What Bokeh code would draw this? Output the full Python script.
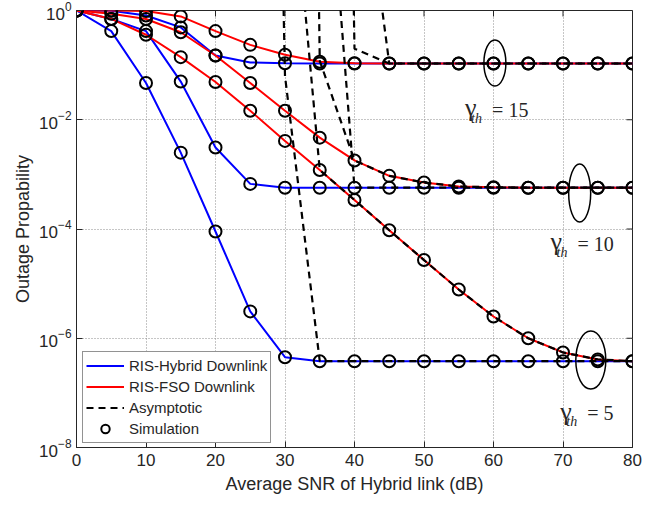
import math
from bokeh.plotting import figure
from bokeh.models import (Range1d, FixedTicker, Legend, LegendItem, Label)
from bokeh.embed import file_html
from bokeh.resources import INLINE

nan = float("nan")

# ---------------- data ----------------
snr = [0, 5, 10, 15, 20, 25, 30, 35, 40, 45, 50, 55, 60, 65, 70, 75, 80]

# RIS-Hybrid downlink (blue)
hyb_g5 = [1.0, 0.42, 0.047, 0.0025, 9.0e-5, 3.1e-6, 4.5e-7, 3.8e-7, 3.8e-7, 3.8e-7,
          3.8e-7, 3.8e-7, 3.8e-7, 3.8e-7, 3.8e-7, 3.8e-7, 3.8e-7]
hyb_g10 = [1.0, 0.70, 0.42, 0.050, 0.0031, 6.7e-4, 5.7e-4, 5.7e-4, 5.7e-4, 5.7e-4,
           5.7e-4, 5.7e-4, 5.7e-4, 5.7e-4, 5.7e-4, 5.7e-4, 5.7e-4]
hyb_g15 = [1.0, 0.99, 0.81, 0.49, 0.15, 0.112, 0.108, 0.107, 0.107, 0.107,
           0.107, 0.107, 0.107, 0.107, 0.107, 0.107, 0.107]

# RIS-FSO downlink (red)
fso_g5 = [1.0, 0.70, 0.36, 0.14, 0.049, 0.0146, 0.0041, 0.0012, 3.4e-4, 9.5e-5,
          2.7e-5, 7.8e-6, 2.5e-6, 1.0e-6, 5.5e-7, 4.1e-7, 3.8e-7]
fso_g10 = [1.0, 0.87, 0.70, 0.40, 0.15, 0.047, 0.0146, 0.0047, 0.0018, 9.4e-4,
           7.1e-4, 6.0e-4, 5.8e-4, 5.7e-4, 5.7e-4, 5.7e-4, 5.7e-4]
fso_g15 = [1.0, 1.0, 0.98, 0.78, 0.42, 0.235, 0.155, 0.115, 0.108, 0.107,
           0.107, 0.107, 0.107, 0.107, 0.107, 0.107, 0.107]

# Asymptotic curves (very large values at low SNR are clipped by the axis)
asy_hyb_g5 = [nan, nan, nan, nan, nan, 6.3e28, 6.3e-2, 3.8e-7, 3.8e-7, 3.8e-7,
              3.8e-7, 3.8e-7, 3.8e-7, 3.8e-7, 3.8e-7, 3.8e-7, 3.8e-7]
asy_fso_g5 = [nan, nan, nan, nan, nan, nan, 1.1e4, 1.2e-3, 3.4e-4, 9.5e-5,
              2.7e-5, 7.8e-6, 2.5e-6, 1.0e-6, 5.5e-7, 4.1e-7, 3.8e-7]
asy_fso_g10 = [nan, nan, nan, nan, nan, nan, 1e45, 0.12, 0.0018, 9.4e-4,
               7.1e-4, 6.0e-4, 5.8e-4, 5.7e-4, 5.7e-4, 5.7e-4, 5.7e-4]
asy_hyb_g10 = [nan, nan, nan, nan, nan, nan, nan, 7.0e4, 5.7e-4, 5.7e-4,
               5.7e-4, 5.7e-4, 5.7e-4, 5.7e-4, 5.7e-4, 5.7e-4, 5.7e-4]
asy_fso_g15 = [nan, nan, nan, nan, nan, nan, nan, 2e34, 0.2, 0.107,
               0.107, 0.107, 0.107, 0.107, 0.107, 0.107, 0.107]
asy_hyb_g15 = [nan, nan, nan, nan, nan, nan, nan, nan, 7.6e3, 0.107,
               0.107, 0.107, 0.107, 0.107, 0.107, 0.107, 0.107]

x_ticks = [0, 10, 20, 30, 40, 50, 60, 70, 80]
y_ticks = [1e-8, 1e-6, 1e-4, 1e-2, 1]

# threshold annotations: label text, ellipse centre, label anchor (snr, outage)
gamma_labels = ["15", "10", "5"]
ellipse_x = [60.2, 72.4, 74.0]
ellipse_y = [10 ** -0.96, 10 ** -3.34, 10 ** -6.40]
label_x = [59.8, 72.1, 73.5]
label_y = [10 ** -1.82, 10 ** -4.27, 10 ** -7.37]

# ---------------- figure ----------------
TXT = "#262626"
p = figure(width=660, height=505, output_backend="svg", toolbar_location=None,
           y_axis_type="log", x_range=Range1d(0, 80), y_range=Range1d(1e-8, 1),
           min_border_left=76, min_border_right=28, min_border_top=10,
           min_border_bottom=58)
p.background_fill_color = "white"
p.outline_line_color = TXT
p.outline_line_width = 1

for ax in (p.xaxis[0], p.yaxis[0]):
    ax.major_tick_in = 6
    ax.major_tick_out = 0
    ax.minor_tick_line_color = None
    ax.axis_line_color = TXT
    ax.major_tick_line_color = TXT
    ax.major_label_text_font = "Liberation Sans"
    ax.major_label_text_font_size = "17px"
    ax.major_label_text_color = TXT
    ax.axis_label_text_font = "Liberation Sans"
    ax.axis_label_text_font_size = "18px"
    ax.axis_label_text_font_style = "normal"
    ax.axis_label_text_color = TXT

p.xaxis[0].ticker = FixedTicker(ticks=x_ticks)
p.yaxis[0].ticker = FixedTicker(ticks=y_ticks)
p.xaxis[0].axis_label = "Average SNR of Hybrid link (dB)"
p.yaxis[0].axis_label = "Outage Propability"
p.xaxis[0].major_label_standoff = 6
p.yaxis[0].major_label_standoff = 5
p.xaxis[0].axis_label_standoff = 5
p.yaxis[0].axis_label_standoff = 3

p.xgrid.ticker = FixedTicker(ticks=x_ticks)
p.ygrid.ticker = FixedTicker(ticks=y_ticks)
for g in (p.xgrid[0], p.ygrid[0]):
    g.grid_line_color = "#8c8c8c"
    g.grid_line_dash = "1 2"
    g.grid_line_width = 1

# inward tick marks on the top and right edges of the box
p.ray(x=x_ticks, y=[1.0] * len(x_ticks), length=6, length_units="screen",
      angle=-math.pi / 2, line_color=TXT, line_width=1)
p.ray(x=[80] * len(y_ticks), y=y_ticks, length=6, length_units="screen",
      angle=math.pi, line_color=TXT, line_width=1)

# ---------------- curves ----------------
blue_r = None
for ys in (hyb_g5, hyb_g10, hyb_g15):
    blue_r = p.line(snr, ys, line_color="#0000ff", line_width=2)
red_r = None
for ys in (fso_g5, fso_g10, fso_g15):
    red_r = p.line(snr, ys, line_color="#ff0000", line_width=2)
dash_r = None
for ys in (asy_hyb_g5, asy_fso_g5, asy_fso_g10, asy_hyb_g10, asy_fso_g15, asy_hyb_g15):
    dash_r = p.line(snr, ys, line_color="black", line_width=2.2, line_dash="7 5")

sx, sy = [], []
for ys in (hyb_g5, hyb_g10, hyb_g15, fso_g5, fso_g10, fso_g15):
    sx += snr
    sy += ys
circ_r = p.scatter(sx, sy, marker="circle", size=12, fill_color=None,
                   line_color="black", line_width=2)

# ---------------- annotations ----------------
p.ellipse(x=ellipse_x, y=ellipse_y, width=[22, 22, 30], height=[46, 58, 58],
          width_units="screen", height_units="screen", fill_color=None,
          line_color="black", line_width=1.5)

for lab, lx, ly in zip(gamma_labels, label_x, label_y):
    p.add_layout(Label(x=lx, y=ly, text="\u03b3", text_font="Liberation Serif",
                       text_font_size="26px", text_color=TXT, text_baseline="alphabetic",
                       x_offset=-27, y_offset=2))
    p.add_layout(Label(x=lx, y=ly, text="th", text_font="Liberation Serif",
                       text_font_style="italic", text_font_size="14px",
                       text_color=TXT, text_baseline="alphabetic",
                       x_offset=-21, y_offset=-8.5))
    p.add_layout(Label(x=lx, y=ly, text="= " + lab, text_font="Liberation Serif",
                       text_font_size="20px", text_color=TXT,
                       text_baseline="alphabetic"))

legend = Legend(items=[
    LegendItem(label="RIS-Hybrid Downlink", renderers=[blue_r]),
    LegendItem(label="RIS-FSO Downlink", renderers=[red_r]),
    LegendItem(label="Asymptotic", renderers=[dash_r]),
    LegendItem(label="Simulation", renderers=[circ_r]),
], location=(6, 4))
legend.label_text_font = "Liberation Sans"
legend.label_text_font_size = "15px"
legend.label_text_color = TXT
legend.glyph_width = 38
legend.glyph_height = 21
legend.label_height = 21
legend.spacing = 0
legend.padding = 3
legend.margin = 0
legend.label_standoff = 5
legend.border_line_color = TXT
legend.border_line_width = 1
legend.background_fill_alpha = 1
p.add_layout(legend, "center")

open("out.html", "w").write(file_html(p, INLINE))
